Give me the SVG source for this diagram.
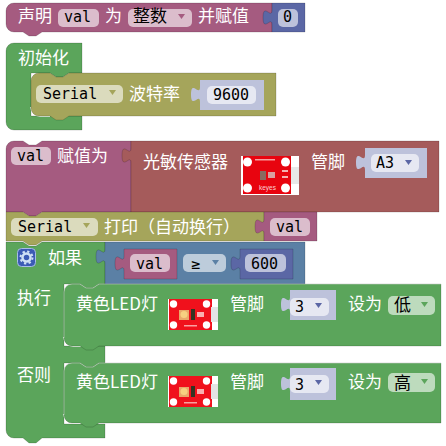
<svg xmlns="http://www.w3.org/2000/svg" xmlns:xlink="http://www.w3.org/1999/xlink" width="446" height="446" viewBox="0 0 446 446">
<style>
text{font-family:"Noto Sans CJK SC","Noto Sans",sans-serif}
.l{font-size:17px;fill:#fff}
.m{font-family:"DejaVu Sans Mono","Liberation Mono","Noto Sans CJK SC",monospace;font-size:15px;fill:#000}
.c{font-size:17px;fill:#000}
.b{stroke:#000;stroke-opacity:.16;stroke-width:1}
.pink{fill:#A55B80}.blue{fill:#5B67A5}.green{fill:#5BA55B}.olive{fill:#A5A55B}.brown{fill:#A55B5B}.steel{fill:#5B80A5}.sh{fill:#BDC2DB}
.hi{fill:none;stroke:#fff;stroke-opacity:.45;stroke-width:1}
.w{fill:none;stroke:#fff;stroke-width:1.5}
</style>
<defs>
<g id="led">
<rect x="0" y="0" width="50" height="31" fill="#fff"/>
<rect x="1" y="0" width="43" height="31" fill="#F0111C"/>
<rect x="43" y="8" width="7" height="15" fill="#E4E4E4"/>
<g fill="#fff"><circle cx="5.5" cy="5" r="3.7"/><circle cx="38.5" cy="5" r="3.7"/><circle cx="5.5" cy="26" r="3.7"/><circle cx="38.5" cy="26" r="3.7"/></g>
<rect x="11" y="11" width="10" height="10" fill="#E9A86A"/>
<circle cx="16" cy="15.500" r="3.500" fill="#F7D080"/>
<rect x="23" y="10" width="4" height="11" fill="#332"/>
<rect x="29" y="13" width="7" height="5" fill="#F9B0B0"/>
<rect x="16" y="26" width="13" height="1.500" fill="#F9A0A0"/>
</g>
</defs>

<g id="declare">
<path class="pink b" d="M14 3H272V32H42l-6 4h-7l-6-4H14a8 8 0 0 1-8-8V11a8 8 0 0 1 8-8z"/>
<path class="blue b" d="M272 3H305V32H272V25c0-10-9 8-9-7.500c0-15.500 9 2.500 9-7.500z"/>
<rect x="58" y="9" width="41" height="18" rx="5" fill="#DBBDCC"/>
<rect x="128" y="9" width="64" height="18" rx="5" fill="#DBBDCC"/>
<rect x="278" y="9" width="20" height="18" rx="5" fill="#BDC2DB"/>
<text class="l" x="18" y="22">声明</text>
<text class="m" x="64" y="22">val</text>
<text class="l" x="105" y="22">为</text>
<text class="c" x="133" y="22">整数</text>
<path d="M178 14h7l-3.500 5z" fill="#A55B80"/>
<text class="l" x="198" y="22">并赋值</text>
<text class="m" x="283" y="22">0</text>
</g>

<g id="setup">
<path class="green b" d="M14 43H82V73H69l-6 4h-7l-6-4H31V116H82V130H14a8 8 0 0 1-8-8V51a8 8 0 0 1 8-8z"/>
<text class="l" x="18" y="64">初始化</text>
<path class="w" d="M31 107a9 9 0 0 0 9 9h10"/>
</g>
<g id="serial-begin">
<path class="olive b" d="M39 73H50l6 4h7l6-4H276V116H69l-6 4h-7l-6-4H39a8 8 0 0 1-8-8V81a8 8 0 0 1 8-8z"/>
<path class="sh" d="M200 80H264V110H200V102c0-10-9 8-9-7.500c0-15.500 9 2.500 9-7.500z"/>
<rect x="36" y="85" width="87" height="18" rx="5" fill="#DBDBBD"/>
<rect x="207" y="86" width="49" height="18" rx="5" fill="#E6E8F2"/>
<text class="m" x="43" y="99">Serial</text>
<path d="M109 90h7l-3.500 5z" fill="#A5A55B"/>
<text class="l" x="129" y="100">波特率</text>
<text class="m" x="213" y="100">9600</text>
</g>

<g id="assign">
<path class="pink b" d="M14 141H23l6 4h7l6-4H131V212H42l-6 4h-7l-6-4H6V149a8 8 0 0 1 8-8z"/>
<path class="brown b" d="M131 141H439V212H131V163c0-10-9 8-9-7.500c0-15.500 9 2.500 9-7.500z"/>
<path class="sh" d="M365 148H427V178H365V170c0-10-9 8-9-7.500c0-15.500 9 2.500 9-7.500z"/>
<rect x="11" y="147" width="40" height="18" rx="5" fill="#DBBDCC"/>
<rect x="371" y="154" width="48" height="18" rx="5" fill="#E6E8F2"/>
<text class="m" x="17" y="161">val</text>
<text class="l" x="57" y="162">赋值为</text>
<text class="l" x="143" y="168">光敏传感器</text>
<text class="l" x="311" y="168">管脚</text>
<text class="m" x="376" y="168">A3</text>
<path d="M405 160h7l-3.500 5z" fill="#5B67A5"/>
<g id="light-sensor-image">
<rect x="241" y="156" width="58" height="39" fill="#fff"/>
<rect x="243" y="156" width="48" height="38" fill="#E8040F"/>
<rect x="291" y="167" width="8" height="17" fill="#E8E8E8"/>
<g fill="#fff"><circle cx="247.500" cy="162" r="4.500"/><circle cx="285.500" cy="162" r="4.500"/><circle cx="247.500" cy="188" r="4.500"/><circle cx="285.500" cy="188" r="4.500"/></g>
<rect x="260" y="171" width="6" height="9" fill="#8A6A60"/>
<rect x="268" y="172" width="7" height="6" fill="#D9A0A0"/>
<rect x="282" y="170" width="6" height="2" fill="#F5B0B0"/>
<rect x="282" y="176" width="6" height="2" fill="#F5B0B0"/>
<rect x="255" y="159" width="20" height="1.500" fill="#F7A0A0"/>
<text x="259" y="190" font-size="6.500" fill="#FAD0D0" style="font-family:'Liberation Sans',sans-serif">keyes</text>
</g>
</g>

<g id="serial-print">
<path class="olive b" d="M6 212H23l6 4h7l6-4H264V241H42l-6 4h-7l-6-4H6z"/>
<path class="pink b" d="M264 212H317V241H264V234c0-10-9 8-9-7.500c0-15.500 9 2.500 9-7.500z"/>
<rect x="11" y="218" width="87" height="18" rx="5" fill="#DBDBBD"/>
<rect x="270" y="218" width="40" height="18" rx="5" fill="#DBBDCC"/>
<text class="m" x="18" y="232">Serial</text>
<path d="M83 223h7l-3.500 5z" fill="#A5A55B"/>
<text class="l" x="104" y="233" style="font-family:'Noto Sans CJK TC','Noto Sans CJK SC',sans-serif">打印（自动换行）</text>
<text class="m" x="276" y="232">val</text>
</g>

<g id="if-else">
<path class="green b" d="M6 242H23l6 4h7l6-4H105V284H99l-6 4h-7l-6-4H64V346H105V363H99l-6 4h-7l-6-4H64V424H105V438H42l-6 5h-7l-6-5H14a8 8 0 0 1-8-8z"/>
<path class="steel b" d="M105 242H305V284H105V264c0-10-9 8-9-7.500c0-15.500 9 2.500 9-7.500z"/>
<rect x="17.500" y="248.500" width="18" height="18" rx="4" fill="#3B5BB5" stroke="#A9BCE8"/>
<circle cx="26.500" cy="257.500" r="4" fill="none" stroke="#CFE0F5" stroke-width="2.500"/>
<circle cx="26.500" cy="257.500" r="6" fill="none" stroke="#CFE0F5" stroke-width="2" stroke-dasharray="2.300 2.400"/>
<text class="l" x="48" y="264">如果</text>
<text class="l" x="17" y="304">执行</text>
<text class="l" x="17" y="381">否则</text>
<path class="w" d="M64 337a9 9 0 0 0 9 9h8"/>
<path class="w" d="M64 414a9 9 0 0 0 9 9h8"/>
</g>
<g id="compare">
<path class="pink b" d="M124 249H177V279H124V271c0-10-9 8-9-7.500c0-15.500 9 2.500 9-7.500z"/>
<rect x="130" y="254" width="40" height="18" rx="5" fill="#DBBDCC"/>
<text class="m" x="136" y="269">val</text>
<rect x="183" y="254" width="43" height="18" rx="5" fill="#BDCCDB"/>
<text class="m" x="191" y="269">≥</text>
<path d="M212 260h7l-3.500 5z" fill="#5B80A5"/>
<path class="blue b" d="M240 249H293V279H240V271c0-10-9 8-9-7.500c0-15.500 9 2.500 9-7.500z"/>
<rect x="245" y="254" width="41" height="18" rx="5" fill="#BDC2DB"/>
<text class="m" x="251" y="269">600</text>
</g>

<g id="led-low">
<path class="green b" d="M72 284H80l6 4h7l6-4H441V346H99l-6 4h-7l-6-4H72a8 8 0 0 1-8-8V292a8 8 0 0 1 8-8z"/>
<path class="hi" d="M64 338V292a8 8 0 0 1 8-8h8l6 4h7l6-4H441"/>
<path class="sh" d="M290 290H336V320H290V312c0-10-9 8-9-7.500c0-15.500 9 2.500 9-7.500z"/>
<rect x="290" y="298" width="39" height="18" rx="5" fill="#E6E8F2"/>
<rect x="388" y="296" width="47" height="19" rx="5" fill="#BDDBBD"/>
<text class="l" x="76" y="310">黄色LED灯</text>
<use xlink:href="#led" href="#led" x="168" y="299"/>
<text class="l" x="230" y="310">管脚</text>
<text class="m" x="295" y="312">3</text>
<path d="M315 303h7l-3.500 5z" fill="#5B67A5"/>
<text class="l" x="348" y="310">设为</text>
<text class="c" x="394" y="311">低</text>
<path d="M421 302h7l-3.500 5z" fill="#5BA55B"/>
</g>

<g id="led-high">
<path class="green b" d="M72 363H80l6 4h7l6-4H441V423H99l-6 4h-7l-6-4H72a8 8 0 0 1-8-8V371a8 8 0 0 1 8-8z"/>
<path class="hi" d="M64 415V371a8 8 0 0 1 8-8h8l6 4h7l6-4H441"/>
<path class="sh" d="M290 368H336V400H290V391c0-10-9 8-9-7.500c0-15.500 9 2.500 9-7.500z"/>
<rect x="290" y="375" width="39" height="18" rx="5" fill="#E6E8F2"/>
<rect x="388" y="373" width="47" height="19" rx="5" fill="#BDDBBD"/>
<text class="l" x="76" y="388">黄色LED灯</text>
<use xlink:href="#led" href="#led" x="168" y="376"/>
<text class="l" x="230" y="388">管脚</text>
<text class="m" x="295" y="390">3</text>
<path d="M315 380h7l-3.500 5z" fill="#5B67A5"/>
<text class="l" x="348" y="388">设为</text>
<text class="c" x="394" y="389">高</text>
<path d="M421 379h7l-3.500 5z" fill="#5BA55B"/>
</g>
</svg>
